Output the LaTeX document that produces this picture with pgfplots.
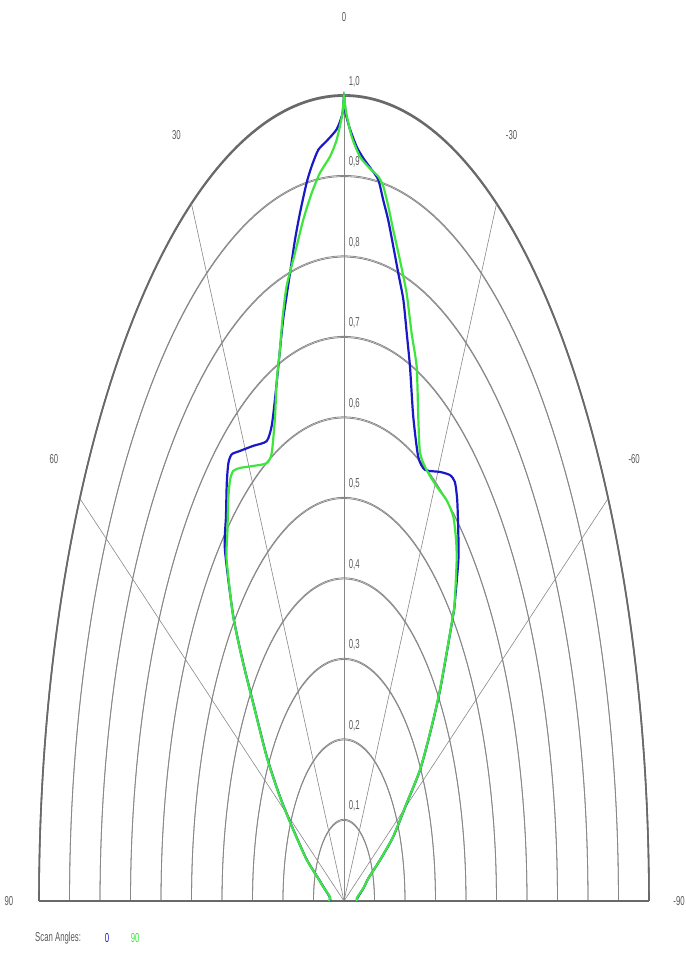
\documentclass[border=0pt]{standalone}
\usepackage{fontspec}
\setmainfont{Liberation Sans}
\usepackage{graphicx}
\usepackage{pgfplots}
\pgfplotsset{compat=1.18}
\usepackage{pgfplotstable}

\definecolor{scanblue}{RGB}{25,25,200}
\definecolor{scangreen}{RGB}{60,230,60}
\definecolor{gridgray}{RGB}{135,135,135}
\definecolor{rimgray}{RGB}{105,105,105}
\definecolor{labgray}{RGB}{90,90,90}

% narrow, tall labels like the stretched original
\newcommand{\lbl}[1]{\scalebox{0.6}[1]{\fontsize{13}{14}\selectfont #1}}

% scan angle 0: angle (deg, + = left), relative intensity
\pgfplotstableread{
a r
90 0.045
84 0.047
75.3 0.070
71.5 0.089
67.13 0.133
61.89 0.189
58.30 0.247
54.72 0.310
50.45 0.386
48.20 0.443
45.74 0.507
41.79 0.586
38.99 0.615
36.51 0.646
34.87 0.663
33.57 0.666
31.39 0.655
27.76 0.639
23.93 0.625
21.89 0.636
19.96 0.663
17.97 0.698
16.14 0.735
15.15 0.755
12.78 0.800
11.07 0.837
9.58 0.867
7.80 0.901
6.62 0.919
5.16 0.937
3.44 0.946
1.43 0.959
0.3 0.978
0 1.000
-0.3 0.979
-1.18 0.959
-2.54 0.938
-3.92 0.925
-5.71 0.913
-7.16 0.903
-8.42 0.880
-9.74 0.858
-11.25 0.829
-12.86 0.800
-14.60 0.772
-16.25 0.735
-18.06 0.698
-20.69 0.643
-23.82 0.603
-26.39 0.598
-30.55 0.619
-33.29 0.633
-34.94 0.635
-36.72 0.621
-39.37 0.591
-41.50 0.566
-44.22 0.522
-45.21 0.505
-50.22 0.410
-53.54 0.351
-56.86 0.298
-59.44 0.239
-63.68 0.180
-66.67 0.129
-70.52 0.085
-76 0.066
-85 0.044
-90 0.043
}\scanzero

% scan angle 90
\pgfplotstableread{
a r
90 0.050
84 0.046
75.3 0.071
71.5 0.090
67.13 0.134
61.89 0.190
58.30 0.248
54.72 0.311
50.45 0.387
48.20 0.444
45.74 0.508
42.20 0.573
39.91 0.596
37.25 0.627
35.52 0.643
34.21 0.646
32.37 0.637
28.84 0.617
24.96 0.600
23.06 0.605
20.59 0.643
18.93 0.681
17.03 0.717
15.53 0.752
13.82 0.787
11.28 0.821
8.96 0.857
6.86 0.886
4.97 0.908
2.84 0.926
1.45 0.946
0.3 0.978
0 1.000
-0.4 0.980
-1.52 0.950
-3.25 0.926
-5.35 0.914
-7.13 0.907
-8.27 0.897
-9.56 0.875
-10.97 0.849
-12.98 0.817
-15.24 0.782
-17.47 0.739
-19.76 0.705
-22.04 0.649
-24.13 0.610
-26.85 0.600
-30.56 0.598
-34.06 0.601
-36.90 0.597
-39.31 0.580
-41.10 0.562
-44.22 0.521
-45.21 0.504
-50.22 0.409
-53.54 0.350
-56.86 0.297
-59.44 0.238
-63.68 0.179
-66.67 0.128
-70.52 0.085
-76 0.065
-85 0.042
-90 0.043
}\scanninety

\begin{document}
\begin{tikzpicture}
\begin{axis}[
    x=305bp, y=805bp,
    xmin=-1, xmax=1, ymin=0, ymax=1,
    hide axis, clip=false,
]
% concentric intensity circles (second pass shifted 1px up: thicker tops, as in the stretched original)
\pgfplotsinvokeforeach{0.1,0.2,0.3,0.4,0.5,0.6,0.7,0.8,0.9}{
  \addplot[gridgray, line width=0.8pt, domain=0:180, samples=120, no markers]
    ({#1*cos(x)},{#1*sin(x)});
  \addplot[gridgray, line width=0.8pt, domain=0:180, samples=120, no markers]
    ({#1*cos(x)},{#1*sin(x)+0.0015*sin(x)});
}
\addplot[rimgray, line width=1.6pt, domain=0:180, samples=180, no markers]
  ({cos(x)},{sin(x)});
\addplot[rimgray, line width=1.6pt, domain=0:180, samples=180, no markers]
  ({cos(x)},{sin(x)+0.0015*sin(x)});
% radial lines
\pgfplotsinvokeforeach{-60,-30,0,30,60}{
  \draw[gridgray, line width=0.6pt] (axis cs:0,0) -- (axis cs:{-sin(#1)},{cos(#1)});
}
\draw[rimgray, line width=1.6pt] (axis cs:-1,0) -- (axis cs:1,0);

% curves
\addplot[scanblue, line width=2.2pt, smooth, tension=0.4, no markers]
  table[x expr={-\thisrow{r}*sin(\thisrow{a})}, y expr={\thisrow{r}*cos(\thisrow{a})}] {\scanzero};
\addplot[scangreen, line width=2.2pt, smooth, tension=0.4, no markers]
  table[x expr={-\thisrow{r}*sin(\thisrow{a})}, y expr={\thisrow{r}*cos(\thisrow{a})}] {\scanninety};

% angle labels (radius 1.0985)
\node[labgray] at (axis cs:-1.0985,0) {\lbl{90}};
\node[labgray] at (axis cs:-0.9513,0.5493) {\lbl{60}};
\node[labgray] at (axis cs:-0.5493,0.9513) {\lbl{30}};
\node[labgray] at (axis cs:0,1.0985) {\lbl{0}};
\node[labgray] at (axis cs:0.5493,0.9513) {\lbl{-30}};
\node[labgray] at (axis cs:0.9513,0.5493) {\lbl{-60}};
\node[labgray] at (axis cs:1.0985,0) {\lbl{-90}};

% intensity labels
\pgfplotsinvokeforeach{1,2,3,4,5,6,7,8,9}{
  \node[labgray, anchor=west, inner sep=1pt] at (axis cs:0.012,{0.#1+0.018}) {\lbl{0,#1}};
}
\node[labgray, anchor=west, inner sep=1pt] at (axis cs:0.012,1.018) {\lbl{1,0}};

% legend
\node[labgray, anchor=west, inner sep=0pt] at (axis cs:-1.013,-0.046) {\lbl{Scan Angles:}};
\node[scanblue] at (axis cs:-0.777,-0.046) {\lbl{0}};
\node[scangreen] at (axis cs:-0.685,-0.046) {\lbl{90}};

\coordinate (bl) at (axis cs:-1.1279,-0.0646);
\coordinate (tr) at (axis cs:1.1213,1.1193);
\end{axis}
\pgfresetboundingbox
\useasboundingbox (bl) rectangle (tr);
\end{tikzpicture}
\end{document}
